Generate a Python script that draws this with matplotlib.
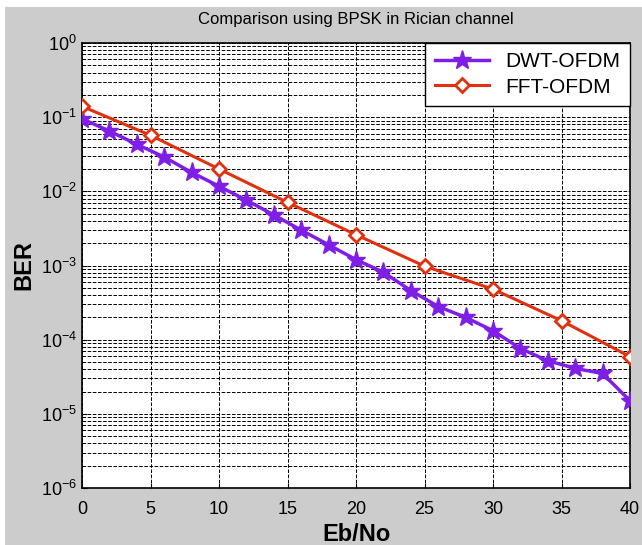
import numpy as np
import matplotlib.pyplot as plt
from matplotlib.patches import Rectangle

# Eb/No axis
snr_dwt = [0, 2, 4, 6, 8, 10, 12, 14, 16, 18, 20, 22, 24, 26, 28, 30, 32, 34, 36, 38, 40]
ber_dwt = [0.095, 0.065, 0.043, 0.029, 0.018, 0.0117, 0.0076, 0.0048, 0.0030, 0.0019,
           0.0012, 0.00081, 0.00046, 0.00028, 0.00020, 0.000132, 0.000076, 0.000052,
           0.000041, 0.000035, 0.000015]

snr_fft = [0, 5, 10, 15, 20, 25, 30, 35, 40]
ber_fft = [0.14, 0.057, 0.020, 0.0071, 0.0026, 0.00098, 0.00048, 0.00018, 0.000059]

xticks = [0, 5, 10, 15, 20, 25, 30, 35, 40]

plt.rcParams['font.family'] = ['Liberation Sans', 'DejaVu Sans']
plt.rcParams['mathtext.fontset'] = 'custom'
plt.rcParams['mathtext.rm'] = 'Liberation Sans'
plt.rcParams['mathtext.it'] = 'Liberation Sans'


def main():
    fig = plt.figure(figsize=(6.42, 5.45), dpi=100, facecolor='white')
    # grey panel behind the axes
    fig.patches.append(Rectangle((5 / 642, 0), 1, 1 - 7 / 545, transform=fig.transFigure,
                                 facecolor='#cccccc', edgecolor='none', zorder=-1))

    ax = fig.add_axes([82 / 642, 1 - 488 / 545, 548 / 642, 445 / 545])
    ax.plot(snr_dwt, ber_dwt, color='#7f1ee6', linewidth=2.5, marker='*', markersize=14,
            label='DWT-OFDM', zorder=3)
    ax.plot(snr_fft, ber_fft, color='#e0300e', linewidth=2.2, marker='D', markersize=7,
            markerfacecolor='white', markeredgewidth=2, label='FFT-OFDM', zorder=3)

    ax.set_yscale('log')
    ax.set_ylim(1e-6, 1)
    ax.set_xlim(0, 40)
    ax.set_xticks(xticks)
    ax.set_yticks([10.0 ** k for k in range(-6, 1)])

    ax.grid(True, which='major', axis='both', color='black', linestyle='--', linewidth=0.7)
    ax.grid(True, which='minor', axis='y', color='black', linestyle='--', linewidth=0.7)
    ax.tick_params(labelsize=13, direction='in', which='both')
    ax.tick_params(axis='x', pad=9)
    for s in ax.spines.values():
        s.set_linewidth(1.2)

    ax.set_title('Comparison using BPSK in Rician channel', fontsize=12, pad=14)
    ax.set_xlabel('Eb/No', fontsize=17, fontweight='bold', labelpad=4)
    ax.set_ylabel('BER', fontsize=17, fontweight='bold', labelpad=4)

    leg = ax.legend(loc='upper right', fontsize=15, fancybox=False, framealpha=1,
                    edgecolor='black', borderaxespad=0, handlelength=2.6,
                    borderpad=0.45, labelspacing=0.3)
    leg.get_frame().set_linewidth(1)

    fig.savefig('out.png', dpi=100, facecolor=fig.get_facecolor())


if __name__ == '__main__':
    main()
